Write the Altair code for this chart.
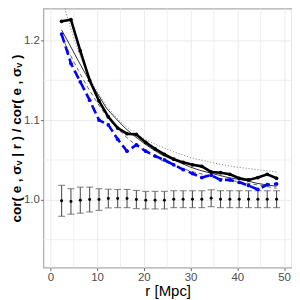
import altair as alt
import pandas as pd

# binned measurements
r_bins = [2.4, 4.4, 6.4, 8.4, 10.4, 12.4, 14.4, 16.4, 18.4, 20.4, 22.4, 24.4,
          26.4, 28.4, 30.4, 32.4, 34.4, 36.4, 38.4, 40.4, 42.4, 44.4, 46.4, 48.4]
black_vals = [1.224, 1.226, 1.187, 1.150, 1.124, 1.104, 1.090, 1.083, 1.082, 1.072, 1.064, 1.057,
              1.051, 1.047, 1.044, 1.042, 1.035, 1.034, 1.032, 1.027, 1.025, 1.028, 1.032, 1.027]
blue_vals = [1.208, 1.171, 1.148, 1.125, 1.100, 1.094, 1.076, 1.061, 1.069, 1.061, 1.055, 1.050,
             1.044, 1.038, 1.033, 1.028, 1.031, 1.025, 1.025, 1.022, 1.018, 1.013, 1.019, 1.020]
null_mean = [0.9988, 0.998, 0.9996, 1.0004, 1.0004, 1.0016, 1.0016, 1.0016, 1.0004, 0.9996, 0.9996, 0.9996,
             1.0008, 1.0008, 1.0008, 1.0008, 1.002, 1.0008, 1.0008, 1.0008, 1.0008, 1.0008, 1.0008, 1.0008]
null_err = [0.0194, 0.016, 0.0163, 0.0156, 0.0136, 0.0117, 0.0114, 0.0114, 0.0114, 0.011, 0.011, 0.011,
            0.0106, 0.0106, 0.0106, 0.0106, 0.0106, 0.0106, 0.0106, 0.0106, 0.0106, 0.0106, 0.0106, 0.0106]

# fitted curves
fit_r = [2.4, 4, 6, 8, 10, 12, 14, 16, 18, 20, 22, 24, 26, 28, 30, 32, 34, 36, 38, 40, 42, 44, 46, 48.4]
fit_solid = [1.213, 1.196, 1.174, 1.153, 1.134, 1.115, 1.102, 1.090, 1.080, 1.071, 1.063, 1.056,
             1.051, 1.046, 1.041, 1.037, 1.034, 1.031, 1.028, 1.026, 1.024, 1.021, 1.019, 1.017]
fit_dashed = [1.205, 1.185, 1.162, 1.141, 1.122, 1.105, 1.092, 1.080, 1.070, 1.062, 1.055, 1.049,
              1.044, 1.040, 1.036, 1.033, 1.030, 1.027, 1.025, 1.023, 1.021, 1.019, 1.017, 1.0146]
dot_r = [2.9, 3.2, 4, 5, 6, 7, 8, 9, 10, 12, 14, 16, 18, 20, 22, 24, 26, 28, 30, 33, 36, 40, 44, 48.4]
fit_dotted = [1.255, 1.2375, 1.222, 1.204, 1.187, 1.172, 1.158, 1.146, 1.136, 1.118, 1.104, 1.093,
              1.084, 1.077, 1.071, 1.066, 1.061, 1.057, 1.053, 1.049, 1.045, 1.041, 1.038, 1.035]

x_minor = [5, 15, 25, 35, 45]
y_minor = [0.95, 1.05, 1.15]

XD = [-1.5, 51.7]
YD = [0.915, 1.24]

df = pd.DataFrame({"r": r_bins, "black": black_vals, "blue": blue_vals,
                   "m": null_mean, "lo": [a - b for a, b in zip(null_mean, null_err)],
                   "hi": [a + b for a, b in zip(null_mean, null_err)]})
dff = pd.DataFrame({"r": fit_r, "solid": fit_solid, "dashed": fit_dashed})
dfd = pd.DataFrame({"r": dot_r, "dotted": fit_dotted})

xs = alt.Scale(domain=XD, nice=False, zero=False)
ys = alt.Scale(domain=YD, nice=False, zero=False)

xaxis = alt.Axis(values=[0, 10, 20, 30, 40, 50], title="r [Mpc]", format="d")
yaxis = alt.Axis(values=[1.0, 1.1, 1.2], title="cor( e , σᵥ | r ) / cor( e , σᵥ )", format=".1f")

X = lambda f: alt.X(f"{f}:Q", scale=xs, axis=xaxis)
Y = lambda f: alt.Y(f"{f}:Q", scale=ys, axis=yaxis)

gx = alt.Chart(pd.DataFrame({"v": x_minor})).mark_rule(color="#EBEBEB", strokeWidth=0.8).encode(
    x=alt.X("v:Q", scale=xs, axis=xaxis))
gy = alt.Chart(pd.DataFrame({"v": y_minor})).mark_rule(color="#EBEBEB", strokeWidth=0.8).encode(
    y=alt.Y("v:Q", scale=ys, axis=yaxis))

base = alt.Chart(df)
err_rule = base.mark_rule(color="#555555", strokeWidth=1.1).encode(x=X("r"), y=Y("lo"), y2="hi")
err_cap_lo = base.mark_tick(color="#555555", orient="horizontal", size=7, thickness=1.1).encode(x=X("r"), y=Y("lo"))
err_cap_hi = base.mark_tick(color="#555555", orient="horizontal", size=7, thickness=1.1).encode(x=X("r"), y=Y("hi"))
err_pt = base.mark_circle(color="black", size=9, opacity=1).encode(x=X("r"), y=Y("m"))

dotted = alt.Chart(dfd).mark_line(color="#777777", strokeWidth=1, strokeDash=[1, 2], clip=True).encode(
    x=X("r"), y=Y("dotted"))
dashed = alt.Chart(dff).mark_line(color="#666666", strokeWidth=1, strokeDash=[4, 3], clip=True).encode(
    x=X("r"), y=Y("dashed"))
solid = alt.Chart(dff).mark_line(color="black", strokeWidth=0.8, clip=True).encode(x=X("r"), y=Y("solid"))

blue_line = base.mark_line(color="#0000FF", strokeWidth=2.6, strokeDash=[9, 4], clip=True).encode(
    x=X("r"), y=Y("blue"))
blue_pt = base.mark_circle(color="#0000FF", size=14, opacity=1).encode(x=X("r"), y=Y("blue"))
black_line = base.mark_line(color="black", strokeWidth=2.6, clip=True).encode(x=X("r"), y=Y("black"))
black_pt = base.mark_circle(color="black", size=14, opacity=1).encode(x=X("r"), y=Y("black"))

chart = alt.layer(gx, gy, err_rule, err_cap_lo, err_cap_hi, err_pt, dotted, dashed, solid,
                  blue_line, blue_pt, black_line, black_pt).properties(
    width=249.5, height=260,
    autosize=alt.AutoSizeParams(type="none"),
    padding={"left": 35.5, "top": 0, "right": 0, "bottom": 32},
).configure_view(stroke="#AAAAAA", strokeWidth=1.2).configure_axis(
    grid=True, gridColor="#EBEBEB", gridWidth=1, domain=False,
    tickColor="#4D4D4D", tickSize=3, tickWidth=0.8,
    labelColor="#4D4D4D", labelFont="Liberation Sans", labelFontSize=11.5, labelPadding=1,
    titleColor="black", titleFont="Liberation Sans",
).configure_axisX(titleFontSize=15, titleFontWeight="normal", titlePadding=1
).configure_axisY(titleFontSize=13.5, titleFontWeight="bold", titlePadding=0)

chart.save("out.html", embed_options={"renderer": "svg", "actions": False})
